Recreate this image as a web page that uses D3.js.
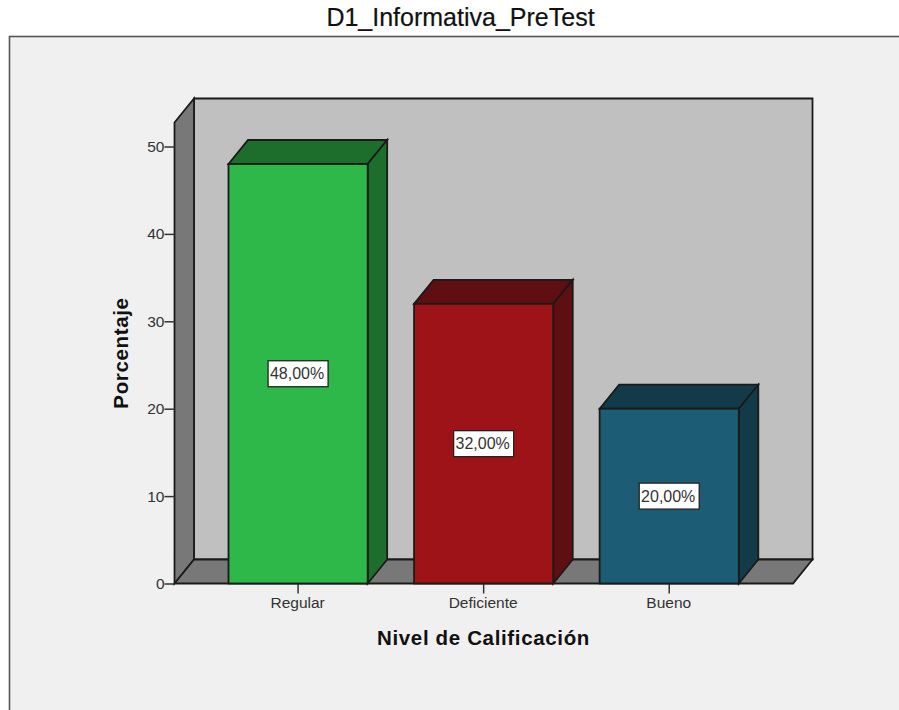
<!DOCTYPE html>
<html><head><meta charset="utf-8">
<script src="https://cdn.jsdelivr.net/npm/d3@7/dist/d3.min.js"></script>
<style>html,body{margin:0;padding:0;background:#fff;overflow:hidden}svg{display:block}
text{font-family:"Liberation Sans",Arial,sans-serif}</style></head><body>
<svg id="c" width="899" height="710"></svg>
<script>
const categories = ["Regular","Deficiente","Bueno"];
const values = [48,32,20];
const valueLabels = ["48,00%","32,00%","20,00%"];
const frontColors = ["#2eb84a","#9e1317","#1c5d75"];
const sideColors = ["#1d6e2d","#5f0e11","#123a48"];
const yTicks = [0,10,20,30,40,50];
const titleText = "D1_Informativa_PreTest";
const xTitle = "Nivel de Calificación";
const yTitle = "Porcentaje";

const svg = d3.select("#c");
const dx = 19.5, dy = -24;
const stroke = "#1a1a1a";
const sw = 1.8;
const x0 = 174.5, x1 = 793, yB = 583.5;
const y = d3.scaleLinear().domain([0,50]).range([yB,146.5]);
const yTop = 122.5;
const x = d3.scaleBand().domain(categories).range([205.3,762]).paddingInner(.25).paddingOuter(.125);
const poly = pts => pts.map(p=>p.join(",")).join(" ");

svg.append("text").attr("x",460.5).attr("y",26).attr("text-anchor","middle")
  .attr("font-size",25).attr("fill","#111").attr("stroke","#111").attr("stroke-width",0.2).text(titleText);

svg.append("rect").attr("x",9.5).attr("y",36.5).attr("width",900).attr("height",700)
  .attr("fill","#f0f0f0").attr("stroke","#555").attr("stroke-width",1.6);

// walls
svg.append("polygon").attr("points",poly([[x0+dx,yTop+dy],[x1+dx,yTop+dy],[x1+dx,yB+dy],[x0+dx,yB+dy]]))
  .attr("fill","#c0c0c0").attr("stroke",stroke).attr("stroke-width",sw);
svg.append("polygon").attr("points",poly([[x0,yTop],[x0+dx,yTop+dy],[x0+dx,yB+dy],[x0,yB]]))
  .attr("fill","#787878").attr("stroke",stroke).attr("stroke-width",sw);
svg.append("polygon").attr("points",poly([[x0,yB],[x0+dx,yB+dy],[x1+dx,yB+dy],[x1,yB]]))
  .attr("fill","#787878").attr("stroke",stroke).attr("stroke-width",sw);

// axes
const yAxis = svg.append("g").attr("transform",`translate(${x0},0)`)
  .call(d3.axisLeft(y).tickValues(yTicks).tickSize(10).tickPadding(0).tickFormat(d3.format("d")));
yAxis.select(".domain").remove();
yAxis.selectAll("line").attr("stroke","#333").attr("stroke-width",1.5);
yAxis.selectAll("text").attr("font-size",15.5).attr("fill","#333");

const xAxis = svg.append("g").attr("transform",`translate(0,${yB})`)
  .call(d3.axisBottom(x).tickSize(10).tickPadding(3.5));
xAxis.select(".domain").remove();
xAxis.selectAll("line").attr("stroke","#333").attr("stroke-width",1.5);
xAxis.selectAll("text").attr("font-size",15.5).attr("fill","#333").attr("dx",-0.5);

// bars
const bars = svg.append("g").selectAll("g").data(categories).join("g");
bars.each(function(c,i){
  const g = d3.select(this), l = x(c), r = l + x.bandwidth(), t = y(values[i]);
  g.append("polygon").attr("points",poly([[l,t],[l+dx,t+dy],[r+dx,t+dy],[r,t]]))
    .attr("fill",sideColors[i]).attr("stroke",stroke).attr("stroke-width",sw);
  g.append("polygon").attr("points",poly([[r,t],[r+dx,t+dy],[r+dx,yB+dy],[r,yB]]))
    .attr("fill",sideColors[i]).attr("stroke",stroke).attr("stroke-width",sw);
  g.append("rect").attr("x",l).attr("y",t).attr("width",x.bandwidth()).attr("height",yB-t)
    .attr("fill",frontColors[i]).attr("stroke",stroke).attr("stroke-width",sw);
  const cx = l + x.bandwidth()/2, cy = (t+yB)/2;
  g.append("rect").attr("x",cx-30).attr("y",cy-13).attr("width",60).attr("height",26)
    .attr("fill","#fff").attr("stroke","#222").attr("stroke-width",1.3);
  g.append("text").attr("x",cx-1).attr("y",cy+5.5).attr("text-anchor","middle")
    .attr("font-size",16).attr("fill","#333").text(valueLabels[i]);
});

svg.append("text").attr("x",483.5).attr("y",645).attr("text-anchor","middle")
  .attr("font-size",20.5).attr("font-weight","bold").attr("letter-spacing",0.65).attr("fill","#111").text(xTitle);
svg.append("text").attr("transform","translate(128,353) rotate(-90)").attr("text-anchor","middle")
  .attr("font-size",20.5).attr("font-weight","bold").attr("letter-spacing",0.65).attr("fill","#111").text(yTitle);
</script></body></html>
